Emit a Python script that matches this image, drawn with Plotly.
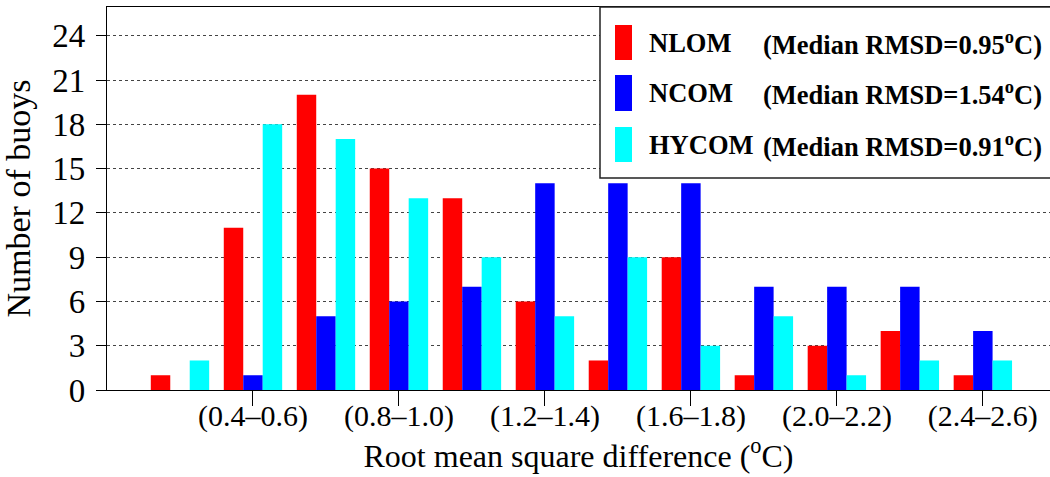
import plotly.graph_objects as go

bins = ["(0.2–0.4)", "(0.4–0.6)", "(0.6–0.8)", "(0.8–1.0)", "(1.0–1.2)", "(1.2–1.4)",
        "(1.4–1.6)", "(1.6–1.8)", "(1.8–2.0)", "(2.0–2.2)", "(2.2–2.4)", "(2.4–2.6)"]
nlom = [1, 11, 20, 15, 13, 6, 2, 9, 1, 3, 4, 1]
ncom = [0, 1, 5, 6, 7, 14, 14, 14, 7, 7, 7, 4]
hycom = [2, 18, 17, 13, 9, 5, 9, 3, 5, 1, 2, 2]
series_names = ["NLOM", "NCOM", "HYCOM"]
medians = ["0.95", "1.54", "0.91"]
colors = ["#FF0000", "#0000FF", "#00FFFF"]
tick_bins = bins[1::2]
y_ticks = list(range(0, 25, 3))

FONT = "Liberation Serif"
W, H = 1050, 477
ML, MR, MT, MB = 107, 0, 7, 87
pw, ph = W - ML - MR, H - MT - MB

fig = go.Figure()
for name, vals, c in zip(series_names, [nlom, ncom, hycom], colors):
    fig.add_trace(go.Bar(x=bins, y=vals, name=name, marker=dict(color=c, line=dict(width=0)),
                         showlegend=False))

def px_x(p):
    return (p - ML) / pw

def px_y(p):
    return (H - MB - p) / ph

shapes = []
# legend box
shapes.append(dict(type="rect", xref="paper", yref="paper",
                   x0=px_x(600), x1=px_x(1060), y0=px_y(178), y1=px_y(7),
                   fillcolor="white", line=dict(color="#222", width=1.5), layer="above"))
annotations = []
rows = [(25, 60, 43), (75, 111, 93), (127, 162, 145)]
for (ya, yb, yc), name, med, c in zip(rows, series_names, medians, colors):
    shapes.append(dict(type="rect", xref="paper", yref="paper",
                       x0=px_x(615), x1=px_x(632), y0=px_y(yb), y1=px_y(ya),
                       fillcolor=c, line=dict(width=0), layer="above"))
    annotations.append(dict(xref="paper", yref="paper", x=px_x(647), y=px_y(yc),
                            xanchor="left", yanchor="middle", showarrow=False,
                            text="<b>%s</b>" % name,
                            font=dict(family=FONT, size=26.5, color="black")))
    annotations.append(dict(xref="paper", yref="paper", x=px_x(1044), y=px_y(yc),
                            xanchor="right", yanchor="middle", showarrow=False,
                            text="<b>(Median RMSD=%s<sup>o</sup>C)</b>" % med,
                            font=dict(family=FONT, size=26.5, color="black")))

fig.update_layout(
    width=W, height=H,
    margin=dict(l=ML, r=MR, t=MT, b=MB),
    paper_bgcolor="white", plot_bgcolor="white",
    barmode="group", bargap=0.2, bargroupgap=0,
    font=dict(family=FONT, color="black"),
    shapes=shapes, annotations=annotations,
    xaxis=dict(type="category", categoryorder="array", categoryarray=bins,
               range=[-1, 11.92], tickmode="array", tickvals=tick_bins, ticktext=tick_bins,
               ticks="outside", ticklen=15, tickwidth=1.2, tickcolor="black",
               ticklabelstandoff=-16,
               tickfont=dict(family=FONT, size=30, color="black"),
               showline=True, linecolor="black", linewidth=1.2, mirror=True,
               showgrid=False, zeroline=False,
               title=dict(text="Root mean square difference (<sup>o</sup>C)",
                          font=dict(family=FONT, size=32, color="black"), standoff=6)),
    yaxis=dict(range=[0, 25.95], tickmode="array", tickvals=y_ticks,
               ticks="outside", ticklen=10, tickwidth=1.2, tickcolor="black",
               ticklabelstandoff=4,
               tickfont=dict(family=FONT, size=33, color="black"),
               showline=True, linecolor="black", linewidth=1.2,
               showgrid=True, gridcolor="#444", gridwidth=1.2, griddash="dot",
               zeroline=False,
               title=dict(text="Number of buoys",
                          font=dict(family=FONT, size=34, color="black"), standoff=12)),
)

fig.write_html("out.html", config={"displayModeBar": False},
               post_script="document.body.style.margin='0px';")
